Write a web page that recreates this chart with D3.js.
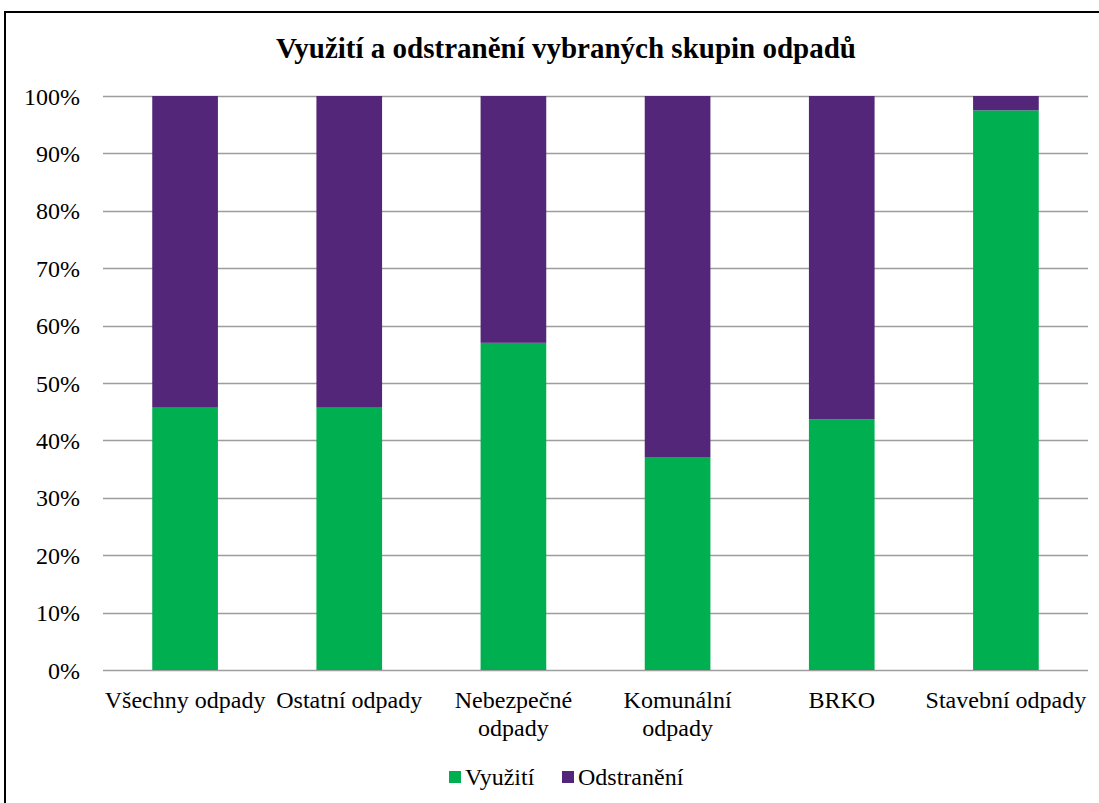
<!DOCTYPE html>
<html>
<head>
<meta charset="utf-8">
<script src="https://cdn.jsdelivr.net/npm/d3@7"></script>
<style>
  body { margin: 0; background: #fff; }
  text { font-family: "Liberation Serif", "Times New Roman", serif; fill: #000; }
</style>
</head>
<body>
<div id="chart"></div>
<script>
// data
var categories = ["Všechny odpady", "Ostatní odpady", "Nebezpečné odpady", "Komunální odpady", "BRKO", "Stavební odpady"];
var vyuziti = [45.7, 45.7, 57.0, 37.0, 43.7, 97.5];
var odstraneni = [54.3, 54.3, 43.0, 63.0, 56.3, 2.5];
var seriesNames = ["Využití", "Odstranění"];
var seriesColors = ["#00b050", "#542679"];
var yTicks = [0, 10, 20, 30, 40, 50, 60, 70, 80, 90, 100];

var W = 1099, H = 803;
var margin = {top: 96, right: 11, bottom: 133, left: 103},
    width = W - margin.left - margin.right,
    height = H - margin.top - margin.bottom;

var root = d3.select("#chart")
  .append("svg")
    .attr("width", W)
    .attr("height", H);

// outer frame (runs past the right and bottom edges like the original)
root.append("rect")
  .attr("x", 5).attr("y", 12)
  .attr("width", 1120).attr("height", 820)
  .attr("fill", "none")
  .attr("stroke", "#000")
  .attr("stroke-width", 2);

root.append("text")
  .attr("x", 566)
  .attr("y", 58)
  .attr("text-anchor", "middle")
  .style("font-size", "29px")
  .style("font-weight", "bold")
  .text("Využití a odstranění vybraných skupin odpadů");

var svg = root.append("g")
  .attr("transform", "translate(" + margin.left + "," + margin.top + ")");

var x = d3.scaleBand()
  .domain(categories)
  .range([0, width])
  .paddingInner(0.6)
  .paddingOuter(0.3);

var y = d3.scaleLinear()
  .domain([0, 100])
  .range([height, 0]);

// gridlines
svg.append("g")
  .selectAll("line")
  .data(yTicks)
  .enter()
  .append("line")
    .attr("x1", 0)
    .attr("x2", width)
    .attr("y1", function(d){ return Math.round(y(d)) + 0.5 })
    .attr("y2", function(d){ return Math.round(y(d)) + 0.5 })
    .attr("stroke", "#9d9d9d")
    .attr("stroke-width", 1.5);

// y axis labels
var yAxis = svg.append("g")
  .attr("transform", "translate(-20,0)")
  .call(d3.axisLeft(y).tickValues(yTicks).tickFormat(function(d){ return d + "%" }).tickSize(0));
yAxis.select(".domain").remove();
yAxis.selectAll("text")
  .style("font-size", "24px")
  .attr("dy", "0.34em");

// stacked bars
var rows = categories.map(function(c, i){
  return {cat: c, "Využití": vyuziti[i], "Odstranění": odstraneni[i]};
});
var stacked = d3.stack().keys(seriesNames)(rows);

svg.selectAll("g.series")
  .data(stacked)
  .enter()
  .append("g")
    .attr("class", "series")
    .attr("fill", function(d, i){ return seriesColors[i] })
  .selectAll("rect")
  .data(function(d){ return d })
  .enter()
  .append("rect")
    .attr("x", function(d){ return x(d.data.cat) })
    .attr("y", function(d){ return y(d[1]) })
    .attr("height", function(d){ return y(d[0]) - y(d[1]) })
    .attr("width", x.bandwidth());

// x labels, wrapped to the band width
var step = x.step();
var xl = svg.append("g")
  .attr("transform", "translate(0," + height + ")")
  .selectAll("text")
  .data(categories)
  .enter()
  .append("text")
    .attr("x", function(d){ return x(d) + x.bandwidth() / 2 })
    .attr("y", 38)
    .attr("text-anchor", "middle")
    .style("font-size", "24px");

xl.each(function(d){
  var t = d3.select(this);
  t.text(d);
  if (this.getComputedTextLength() > step) {
    var words = d.split(" ");
    t.text(null);
    words.forEach(function(w, i){
      t.append("tspan")
        .attr("x", t.attr("x"))
        .attr("dy", i == 0 ? 0 : 28)
        .text(w);
    });
  }
});

// legend
var legend = root.append("g")
  .attr("transform", "translate(449,771)");
var lx = [0, 113];
seriesNames.forEach(function(s, i){
  legend.append("rect")
    .attr("x", lx[i]).attr("y", 0)
    .attr("width", 12).attr("height", 12)
    .attr("fill", seriesColors[i]);
  legend.append("text")
    .attr("x", lx[i] + 16)
    .attr("y", 14)
    .style("font-size", "24px")
    .text(s);
});
</script>
</body>
</html>
